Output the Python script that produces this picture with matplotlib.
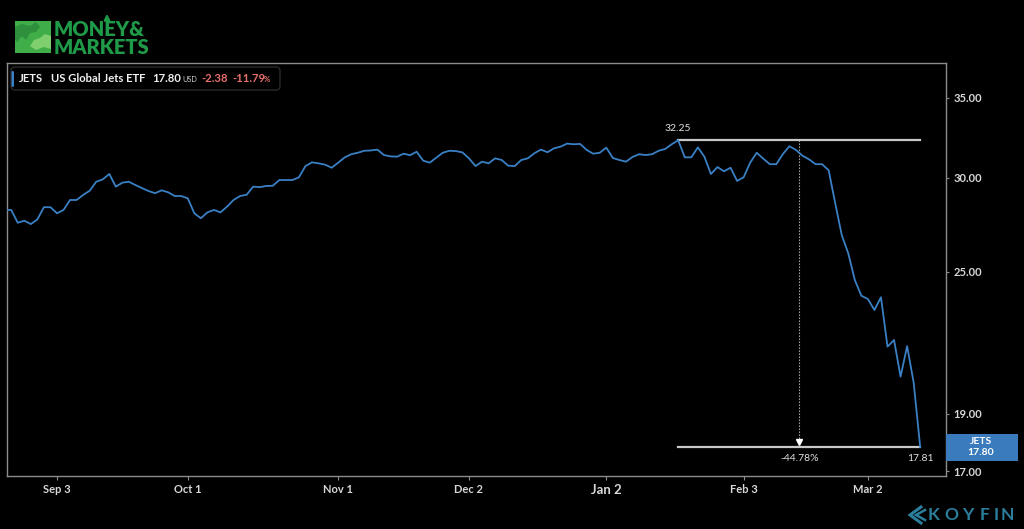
import matplotlib
matplotlib.use("Agg")
import matplotlib.pyplot as plt
import numpy as np
import pandas as pd
from matplotlib.patches import Rectangle, FancyBboxPatch, Polygon
from matplotlib.ticker import FixedLocator, NullLocator

plt.rcParams['font.family'] = ['Lato', 'DejaVu Sans']

# ---------------- data ----------------
holidays = ['2019-09-02', '2019-11-28', '2019-12-25', '2020-01-01', '2020-01-20', '2020-02-17']
dates = pd.bdate_range('2019-08-21', '2020-03-12', freq='C', holidays=holidays)

prices = [
    28.18, 28.18, 27.49, 27.60, 27.42, 27.67, 28.33, 28.33, 28.00, 28.18,
    28.73, 28.73, 29.01, 29.25, 29.76, 29.90, 30.21, 29.48, 29.71, 29.76,
    29.57, 29.40, 29.23, 29.11, 29.27, 29.16, 28.95, 28.95, 28.82, 28.00,
    27.73, 28.05, 28.18, 28.05, 28.36, 28.73, 28.95, 29.02, 29.48, 29.45,
    29.52, 29.53, 29.86, 29.86, 29.86, 30.02, 30.68, 30.90, 30.84, 30.76,
    30.58, 30.88, 31.20, 31.39, 31.48, 31.60, 31.62, 31.67, 31.34, 31.26,
    31.24, 31.42, 31.33, 31.54, 31.00, 30.88, 31.18, 31.48, 31.60, 31.58,
    31.50, 31.14, 30.68, 30.94, 30.84, 31.14, 31.04, 30.70, 30.68, 31.04,
    31.14, 31.45, 31.67, 31.51, 31.75, 31.85, 32.04, 32.00, 32.02, 31.65,
    31.42, 31.48, 31.79, 31.16, 31.04, 30.94, 31.22, 31.39, 31.34, 31.39,
    31.60, 31.71, 32.00, 32.25, 31.20, 31.20, 31.81, 31.24, 30.21, 30.62,
    30.37, 30.58, 29.81, 30.02, 30.88, 31.48, 31.12, 30.79, 30.79, 31.40,
    31.88, 31.65, 31.30, 31.08, 30.79, 30.79, 30.43, 28.56, 26.85, 25.91,
    24.61, 23.87, 23.72, 23.22, 23.80, 21.63, 21.91, 20.41, 21.65, 20.18,
    17.81,
]

tick_dates = ['2019-09-03', '2019-10-01', '2019-11-01', '2019-12-02', '2020-01-02', '2020-02-03', '2020-03-02']
tick_labels = ['Sep 3', 'Oct 1', 'Nov 1', 'Dec 2', 'Jan 2', 'Feb 3', 'Mar 2']
y_ticks = [17, 19, 25, 30, 35]

ticker_name = 'JETS'
fund_name = 'US Global Jets ETF'
last_price = 17.80
change = -2.38
change_pct = -11.79

# ---------------- figure ----------------
W, H = 1024, 529
fig = plt.figure(figsize=(W / 100, H / 100), dpi=100)
fig.patch.set_facecolor('black')

ax_l, ax_r, ax_t, ax_b = 7, 945.7, 63, 476
ax = fig.add_axes([ax_l / W, 1 - ax_b / H, (ax_r - ax_l) / W, (ax_b - ax_t) / H])
ax.set_facecolor('black')

x = np.arange(len(prices))
line_color = '#3a80c4'
ax.plot(x, prices, color=line_color, lw=1.3, zorder=3)

ax.set_yscale('log')
ax.set_ylim(16.84, 37.45)
ax.set_xlim(0.355, 143.9)

ax.yaxis.set_major_locator(FixedLocator(y_ticks))
ax.yaxis.set_minor_locator(NullLocator())
ax.set_yticklabels([f'{v:.2f}' for v in y_ticks])
ax.yaxis.tick_right()

date_list = list(dates.strftime('%Y-%m-%d'))
tick_pos = [date_list.index(d) for d in tick_dates]
ax.xaxis.set_major_locator(FixedLocator(tick_pos))
ax.xaxis.set_minor_locator(NullLocator())
ax.set_xticklabels(tick_labels)

ax.tick_params(axis='y', colors='#8c8c8c', labelcolor='#d8d8d8', labelsize=8, length=2.5, width=0.8, pad=3)
ax.tick_params(axis='x', colors='#8c8c8c', labelcolor='#d8d8d8', labelsize=8, length=3, width=0.8, pad=3)
for lbl in ax.get_xticklabels():
    lbl.set_fontweight('bold')
    if lbl.get_text() == 'Jan 2':
        lbl.set_fontsize(9.5)
for lbl in ax.get_yticklabels():
    lbl.set_fontweight('bold')

for s in ax.spines.values():
    s.set_color('#8c8c8c')
    s.set_linewidth(1.0)

# ---------------- measurement annotation ----------------
i_peak = int(np.argmax(prices))
i_last = len(prices) - 1
p_peak = prices[i_peak]
p_last = prices[i_last]
ann_col = '#c8c8c8'
ax.plot([i_peak, i_last], [p_peak, p_peak], color=ann_col, lw=1.6, zorder=2)
ax.plot([i_peak, i_last], [p_last, p_last], color=ann_col, lw=1.6, zorder=2)
i_mid = (i_peak + i_last) / 2
ax.plot([i_mid, i_mid], [p_peak, p_last * 1.006], color='#bbbbbb', lw=0.8, ls=(0, (1.2, 1.5)), zorder=2)
ax.plot([i_mid], [p_last * 1.009], marker='v', color='white', markersize=5, zorder=4)
pct = (p_last / p_peak - 1) * 100
ax.annotate(f'{p_peak:.2f}', (i_peak, p_peak), xytext=(0, 5), textcoords='offset points',
            ha='center', va='bottom', color='#e0e0e0', fontsize=7.5)
ax.annotate(f'{pct:.2f}%', (i_mid, p_last), xytext=(0, -5), textcoords='offset points',
            ha='center', va='top', color='#e0e0e0', fontsize=7.5)
ax.annotate(f'{p_last:.2f}', (i_last, p_last), xytext=(0, -5), textcoords='offset points',
            ha='center', va='top', color='#e0e0e0', fontsize=7.5)

# ---------------- overlay (figure pixel coordinates) ----------------
ov = fig.add_axes([0, 0, 1, 1], zorder=10)
ov.set_xlim(0, W)
ov.set_ylim(H, 0)
ov.axis('off')
ov.patch.set_alpha(0)

# price tag
fig.canvas.draw()
ypix = ax.transData.transform((0, last_price))[1]
y_tag = H - ypix
ov.add_patch(Rectangle((945.5, y_tag - 13.5), 72, 27, facecolor='#3a7bbd', edgecolor='none'))
ov.text(981, y_tag - 6, ticker_name, color='white', fontsize=7.5, ha='center', va='center', fontweight='bold')
ov.text(981, y_tag + 5.5, f'{last_price:.2f}', color='white', fontsize=7.5, ha='center', va='center', fontweight='bold')

# legend box
ov.add_patch(FancyBboxPatch((11, 67), 269, 23, boxstyle='round,pad=0,rounding_size=4',
                            facecolor='black', edgecolor='#2a2a2a', lw=1))
ov.add_patch(FancyBboxPatch((11.5, 71), 2.5, 16, boxstyle='round,pad=0,rounding_size=1.2',
                            facecolor='#3a80c4', edgecolor='none'))
yl = 79
fs = 8.1
ov.text(19, yl, ticker_name, color='#f0f0f0', fontsize=fs, fontweight='bold', va='center')
ov.text(51, yl, fund_name, color='#f0f0f0', fontsize=fs, fontweight='bold', va='center')
ov.text(152, yl, f'{last_price:.2f}', color='#f0f0f0', fontsize=fs, fontweight='bold', va='center')
ov.text(182, yl + 1, 'USD', color='#cfcfcf', fontsize=5.2, va='center')
ov.text(201, yl, f'{change:.2f}', color='#e8706c', fontsize=fs, fontweight='bold', va='center')
ov.text(232, yl, f'{change_pct:.2f}', color='#e8706c', fontsize=fs, fontweight='bold', va='center')
ov.text(264, yl + 1, '%', color='#e8706c', fontsize=5.5, fontweight='bold', va='center')

# Money & Markets logo
green = '#1f9a48'
ov.add_patch(Rectangle((15, 21), 36, 32, facecolor='#3fae49', edgecolor='none'))
ov.add_patch(Polygon([(15, 27), (22, 24), (30, 26), (36, 22), (40, 27), (36, 32), (30, 33), (26, 40),
                      (22, 36), (17, 42), (15, 40)], closed=True, facecolor='#2e8f3d', edgecolor='none'))
ov.add_patch(Polygon([(51, 36), (45, 34), (40, 38), (34, 40), (30, 46), (36, 50), (44, 47), (51, 49)],
                     closed=True, facecolor='#7fcf6f', edgecolor='none'))
ov.text(54, 54, 'MONEY&\nMARKETS', color=green, fontsize=14.5, fontweight='heavy',
        va='baseline', ha='left', linespacing=0.92)
ov.annotate('', xy=(107, 11), xytext=(107, 22),
            arrowprops=dict(arrowstyle='-|>', color=green, lw=1.6, mutation_scale=8))

# Koyfin logo
teal = '#2b7f9c'
ov.plot([921, 910, 921], [507, 515, 523], color=teal, lw=2.2, solid_joinstyle='miter')
ov.plot([925, 916, 925], [510, 515, 520], color=teal, lw=1.8, solid_joinstyle='miter')
for ch, cx in zip('KOYFIN', [933.5, 951, 968, 985, 996, 1007]):
    ov.text(cx, 515.5, ch, color=teal, fontsize=12.5, fontweight='bold', ha='center', va='center')

fig.savefig('out.png', dpi=100, facecolor='black')
